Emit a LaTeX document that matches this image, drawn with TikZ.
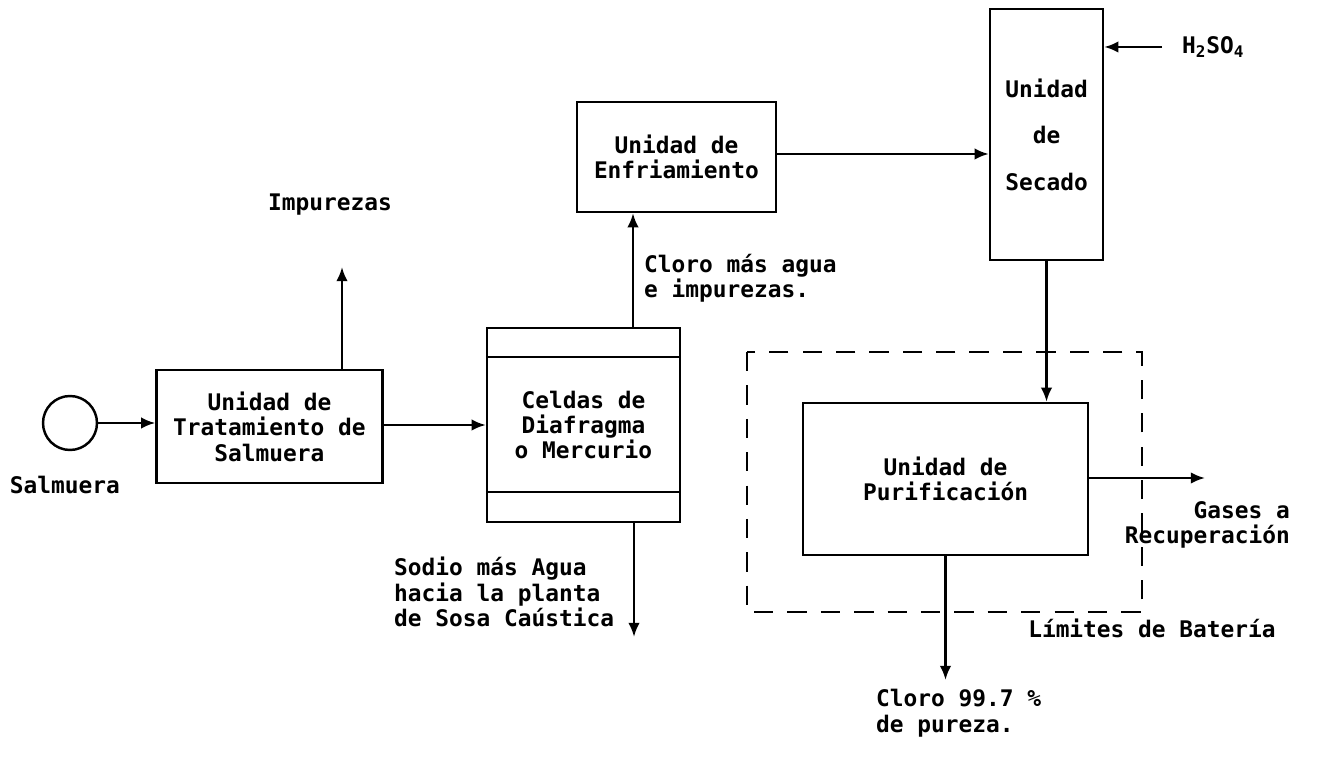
\documentclass[tikz,border=0pt]{standalone}
\usepackage{fontspec}
\setmonofont{DejaVu Sans Mono}
\usepackage{tikz}
\usetikzlibrary{positioning,arrows.meta}

\begin{document}
\begin{tikzpicture}[x=0.02cm,y=-0.02cm,>={Latex[length=8pt,width=6.5pt]},
    every node/.style={font=\ttfamily\bfseries\fontsize{13}{14.5}\selectfont},
    caja/.style={draw,line width=1.4pt,inner sep=0pt,align=center},
    flujo/.style={->,line width=1.4pt}]
        \useasboundingbox (0,0) rectangle (1326,763);
        % entrada de salmuera
        \node[circle,draw,line width=1.4pt,minimum size=1.08cm,inner sep=0pt] (salm) at (70,423) {};
        \node (tsalm) at (65,485) {Salmuera};
        \node[caja,minimum width=4.52cm,minimum height=2.26cm] (trat) at (269.5,426.5) {Unidad de\\Tratamiento de\\Salmuera};
        \draw[flujo] (salm) -- (trat.west |- salm);
        \coordinate (impu) at (342,267);
        \node (timp) at (330,205) {Impurezas};
        \draw[flujo] (trat.north -| impu) -- (impu);
        % celdas
        \node[caja,minimum width=3.86cm,minimum height=3.88cm] (celdas) at (583.5,425) {Celdas de\\Diafragma\\o Mercurio};
        \draw[line width=1.4pt] (celdas.west |- 0,357) -- (celdas.east |- 0,357);
        \draw[line width=1.4pt] (celdas.west |- 0,492) -- (celdas.east |- 0,492);
        \draw[flujo] (trat.east |- 0,425) -- (celdas.west |- 0,425);
        \coordinate (sodio) at (634,637);
        \draw[flujo] (celdas.south -| sodio) -- (sodio);
        \node[anchor=west,align=left] (tsodio) at (388,592) {Sodio más Agua\\hacia la planta\\de Sosa Caústica};
        % enfriamiento y secado
        \node[caja,minimum width=3.98cm,minimum height=2.2cm] (enfr) at (676.5,157) {Unidad de\\Enfriamiento};
        \draw[flujo] (celdas.north -| 633,0) -- (enfr.south -| 633,0);
        \node[anchor=west,align=left] (tcloro) at (638,278) {Cloro más agua\\e impurezas.};
        \node[caja,minimum width=2.26cm,minimum height=5.02cm] (secado) at (1046.5,134.5) {Unidad\\[12pt]de\\[12pt]Secado};
        \draw[flujo] (enfr.east |- 0,154) -- (secado.west |- 0,154);
        \coordinate (h2) at (1162,47);
        \node[anchor=west] (acido) at (1176,47) {H\textsubscript{2}SO\textsubscript{4}};
        \draw[flujo] (h2) -- (secado.east |- h2);
        % purificacion
        \draw[line width=1.4pt,dash pattern=on 11pt off 8pt] (747,352) rectangle (1142,612);
        \node[caja,minimum width=5.7cm,minimum height=3.04cm] (purif) at (945.5,479) {Unidad de\\Purificación};
        \draw[flujo] (secado.south) -- (secado.south |- purif.north);
        \coordinate (gases) at (1205,478);
        \draw[flujo] (purif.east |- gases) -- (gases);
        \node[anchor=east,align=right] (tgases) at (1296,525) {Gases a\\Recuperación};
        \node (tlim) at (1152,628) {Límites de Batería};
        \coordinate (clsal) at (945.5,680);
        \draw[flujo] (purif.south) -- (clsal);
        \node[anchor=west,align=left] (tclsal) at (870,713) {Cloro 99.7 \%\\de pureza.};
\end{tikzpicture}
\end{document}
